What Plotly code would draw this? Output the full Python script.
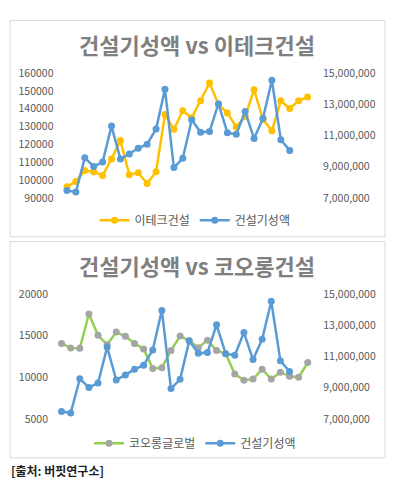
import plotly.graph_objects as go

W, H = 398, 490

periods = list(range(1, 29))

# 건설기성액 (right axis, both charts) - 26 values
construction = [7480000, 7380000, 9570000, 9020000, 9300000, 11600000, 9490000, 9820000,
                10180000, 10440000, 11410000, 13950000, 8950000, 9540000, 12000000, 11200000,
                11250000, 13030000, 11180000, 11080000, 12530000, 10800000, 12100000, 14530000,
                10730000, 10040000]

# 이테크건설 (left axis, chart 1)
etech = [96350, 99200, 105400, 104650, 102650, 111900, 122200, 103000, 104100, 98100,
         104650, 136700, 128500, 138800, 134900, 144400, 154400, 142500, 137600, 129800,
         135600, 150600, 133950, 127600, 144400, 140100, 144400, 146600]

# 코오롱글로벌 (left axis, chart 2)
kolon = [14070, 13530, 13490, 17600, 15040, 13920, 15430, 14920, 14070, 13410,
         11050, 11160, 13220, 14950, 14400, 13560, 14460, 13220, 12830, 10390,
         9650, 9800, 10970, 9800, 10620, 10120, 10000, 11780]

title1 = "건설기성액 vs 이테크건설"
title2 = "건설기성액 vs 코오롱건설"
source = "[출처: 버핏연구소]"

ORANGE = "#FFC000"
BLUE = "#5B9BD5"
GREEN = "#92D050"
GRAY = "#A5A5A5"
TICK = "#595959"
FONT = "Noto Sans CJK KR"

def px(x):
    return x / W

def py(y):
    return 1 - y / H

fig = go.Figure()

fig.add_trace(go.Scatter(x=periods, y=etech, name="이테크건설", mode="lines+markers",
                         line=dict(color=ORANGE, width=2.5),
                         marker=dict(color=ORANGE, size=7),
                         xaxis="x", yaxis="y", legend="legend"))
fig.add_trace(go.Scatter(x=periods[:len(construction)], y=construction, name="건설기성액",
                         mode="lines+markers",
                         line=dict(color=BLUE, width=2.5),
                         marker=dict(color=BLUE, size=7),
                         xaxis="x", yaxis="y2", legend="legend"))
fig.add_trace(go.Scatter(x=periods, y=kolon, name="코오롱글로벌", mode="lines+markers",
                         line=dict(color=GREEN, width=2.5),
                         marker=dict(color=GRAY, size=7),
                         xaxis="x2", yaxis="y3", legend="legend2"))
fig.add_trace(go.Scatter(x=periods[:len(construction)], y=construction, name="건설기성액",
                         mode="lines+markers",
                         line=dict(color=BLUE, width=2.5),
                         marker=dict(color=BLUE, size=7),
                         xaxis="x2", yaxis="y4", legend="legend2"))

tickfont = dict(family=FONT, size=10.5, color=TICK)
common_y = dict(showgrid=False, zeroline=False, showline=False, ticks="", tickfont=tickfont)
common_x = dict(showgrid=False, zeroline=False, showline=False, showticklabels=False,
                ticks="", range=[0.5, 28.5])

right_axis = dict(range=[6999999, 15000001], tick0=7000000, dtick=2000000, tickformat=",d",
                  ticklabelstandoff=10, **common_y)

fig.update_layout(
    width=W, height=H,
    margin=dict(l=0, r=0, t=0, b=0),
    paper_bgcolor="white", plot_bgcolor="white",
    font=dict(family=FONT),
    hovermode=False,
    xaxis=dict(domain=[px(62.5), px(312)], anchor="y", **common_x),
    yaxis=dict(domain=[py(196), py(67)], anchor="x", range=[89999, 160001], tick0=90000,
               dtick=10000, tickformat="d", ticklabelstandoff=8, **common_y),
    yaxis2=dict(overlaying="y", side="right", anchor="x", **right_axis),
    xaxis2=dict(domain=[px(57), px(312.3)], anchor="y3", **common_x),
    yaxis3=dict(domain=[py(424), py(295)], anchor="x2", range=[4999, 20001], tick0=5000,
                dtick=5000, tickformat="d", ticklabelstandoff=8, **common_y),
    yaxis4=dict(overlaying="y3", side="right", anchor="x2", **right_axis),
    legend=dict(orientation="h", x=0.49, xanchor="center", y=py(219), yanchor="middle",
                font=dict(family=FONT, size=12, color=TICK), bgcolor="rgba(0,0,0,0)",
                itemwidth=30),
    legend2=dict(orientation="h", x=0.49, xanchor="center", y=py(449), yanchor="middle",
                 font=dict(family=FONT, size=12, color=TICK), bgcolor="rgba(0,0,0,0)",
                 itemwidth=30),
    shapes=[
        dict(type="rect", xref="paper", yref="paper", x0=px(10), x1=px(385), y0=py(236), y1=py(13),
             line=dict(color="#D9D9D9", width=1), fillcolor="rgba(0,0,0,0)", layer="below"),
        dict(type="rect", xref="paper", yref="paper", x0=px(10), x1=px(385), y0=py(464), y1=py(241),
             line=dict(color="#D9D9D9", width=1), fillcolor="rgba(0,0,0,0)", layer="below"),
    ],
    annotations=[
        dict(text="<b>" + title1 + "</b>", x=px(197), y=py(37), xref="paper", yref="paper",
             showarrow=False, xanchor="center", yanchor="middle",
             font=dict(family=FONT, size=22, color="#7F7F7F")),
        dict(text="<b>" + title2 + "</b>", x=px(197), y=py(265), xref="paper", yref="paper",
             showarrow=False, xanchor="center", yanchor="middle",
             font=dict(family=FONT, size=22, color="#7F7F7F")),
        dict(text="<b>" + source + "</b>", x=px(9), y=py(477), xref="paper", yref="paper",
             showarrow=False, xanchor="left", yanchor="middle",
             font=dict(family=FONT, size=12, color="#1F1F1F")),
    ],
)

fig.write_html("out.html", config={"displayModeBar": False},
               post_script="document.body.style.margin='0';")
